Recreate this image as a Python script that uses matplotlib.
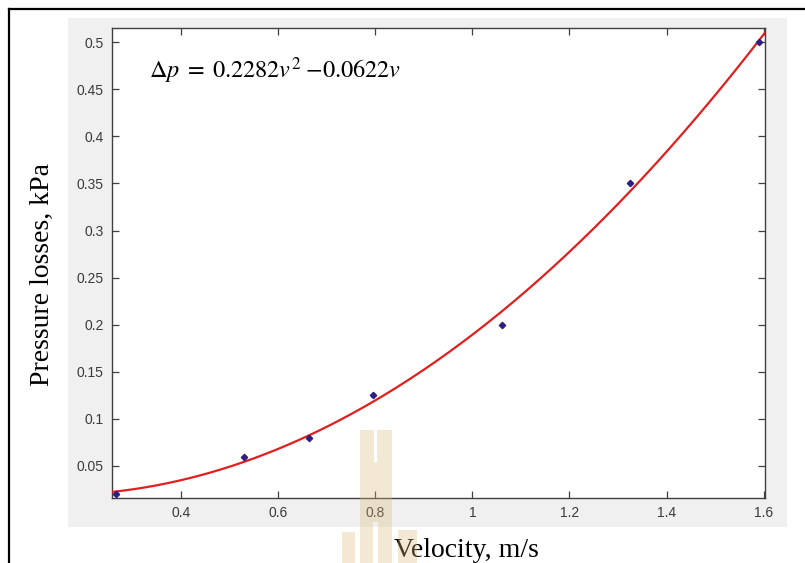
import numpy as np
import matplotlib
matplotlib.use("Agg")
import matplotlib.pyplot as plt
from matplotlib.patches import Rectangle
from matplotlib.lines import Line2D

# ---- data ----
velocity = [0.265, 0.53, 0.6625, 0.795, 1.06, 1.325, 1.59]
pressure = [0.02, 0.06, 0.08, 0.125, 0.2, 0.35, 0.5]
x_ticks = [0.4, 0.6, 0.8, 1.0, 1.2, 1.4, 1.6]
x_tick_labels = ["0.4", "0.6", "0.8", "1", "1.2", "1.4", "1.6"]
y_ticks = [0.05, 0.1, 0.15, 0.2, 0.25, 0.3, 0.35, 0.4, 0.45, 0.5]
y_tick_labels = ["0.05", "0.1", "0.15", "0.2", "0.25", "0.3", "0.35", "0.4", "0.45", "0.5"]
equation = r"$\Delta p\;{=}\;0.2282v^{2}\;{-}0.0622v$"
x_label = "Velocity, m/s"
y_label = "Pressure losses, kPa"

W, H = 805, 563
plt.rcParams["mathtext.fontset"] = "stix"
fig = plt.figure(figsize=(W / 100, H / 100), dpi=100)
fig.patch.set_facecolor("white")

def px(x0, y0, x1, y1):
    """pixel box (top-left origin) -> figure fraction rect"""
    return (x0 / W, 1 - y1 / H, (x1 - x0) / W, (y1 - y0) / H)

# gray panel
gx, gy, gw, gh = px(68, 18, 787, 527)
fig.add_artist(Rectangle((gx, gy), gw, gh, transform=fig.transFigure,
                         facecolor="#f0f0f0", edgecolor="none", zorder=-5))

# outer border (left and top)
fig.add_artist(Line2D([9 / W, 9 / W], [0, 1 - 9 / H], transform=fig.transFigure,
                      color="black", lw=1.6, zorder=-4))
fig.add_artist(Line2D([9 / W, 1], [1 - 9 / H, 1 - 9 / H], transform=fig.transFigure,
                      color="black", lw=1.6, zorder=-4))

ax = fig.add_axes(px(112, 28, 765, 498))
ax.set_facecolor("white")

# fitted curve
coef = np.polyfit(velocity, pressure, 2)
vv = np.linspace(0.257, 1.603, 300)
ax.plot(vv, np.polyval(coef, vv), color="#e01f1f", lw=1.6, zorder=3)
ax.plot(velocity, pressure, linestyle="none", marker="D", markersize=3.2,
        color="#2e1f86", zorder=4)

ax.set_xlim(0.257, 1.603)
ax.set_ylim(0.016, 0.515)
ax.set_xticks(x_ticks)
ax.set_xticklabels(x_tick_labels)
ax.set_yticks(y_ticks)
ax.set_yticklabels(y_tick_labels)
ax.tick_params(direction="in", length=5, width=0.9, color="#404040",
               labelcolor="#3a3a3a", labelsize=10, top=True, right=True, pad=6)
for lab in ax.get_xticklabels() + ax.get_yticklabels():
    lab.set_fontfamily("Liberation Sans")
for s in ax.spines.values():
    s.set_color("#404040")
    s.set_linewidth(1.0)

ax.text(0.334, 0.47, equation, fontsize=17.5, color="black", va="center", ha="left")

fig.text(42 / W, 1 - 274 / H, y_label, rotation=90, fontsize=20,
         family="Liberation Serif", va="center", ha="center")
fig.text(466 / W, 1 - 538 / H, x_label, fontsize=20,
         family="Liberation Serif", va="top", ha="center")

# watermark (non-overlapping pieces)
wm = [(360, 462, 392, 522), (360, 430, 374, 462), (377, 430, 392, 462),
      (360, 522, 373, 563), (378, 522, 392, 563), (342, 532, 355, 563),
      (398, 530, 417, 563)]
for (a, b, c, d) in wm:
    rx, ry, rw, rh = px(a, b, c, d)
    fig.add_artist(Rectangle((rx, ry), rw, rh, transform=fig.transFigure,
                             facecolor="#d9b878", edgecolor="none", alpha=0.32,
                             linewidth=0, zorder=5))

fig.savefig("out.png", dpi=100)
